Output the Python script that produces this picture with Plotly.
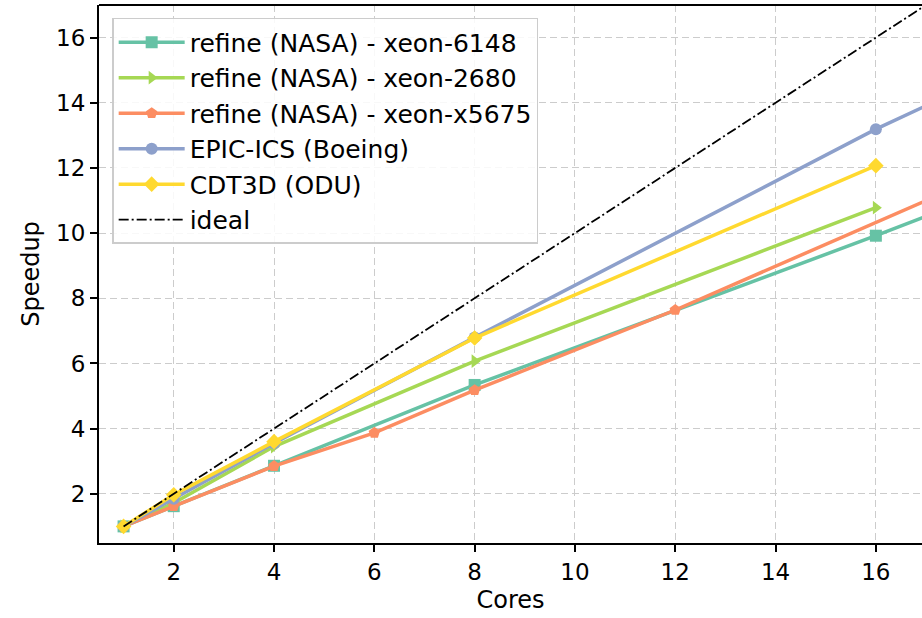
import plotly.graph_objects as go

# Data
cores_6148 = [1, 2, 4, 8, 16, 32]
speedup_6148 = [1.0, 1.62, 2.86, 5.34, 9.92, 19.4]

cores_2680 = [1, 2, 4, 8, 16]
speedup_2680 = [1.0, 1.72, 3.45, 6.07, 10.78]

cores_x5675 = [1, 2, 4, 6, 8, 12, 24]
speedup_x5675 = [1.0, 1.62, 2.85, 3.87, 5.18, 7.64, 15.7]

cores_epic = [1, 2, 4, 8, 16, 32]
speedup_epic = [1.0, 1.85, 3.55, 6.8, 13.19, 24.7]

cores_cdt3d = [1, 2, 4, 8, 16]
speedup_cdt3d = [1.0, 1.97, 3.6, 6.78, 12.07]

cores_ideal = [1, 32]
speedup_ideal = [1, 32]

tick_vals = [2, 4, 6, 8, 10, 12, 14, 16]

series = [
    ("refine (NASA) - xeon-6148", cores_6148, speedup_6148, "#66c2a5", "square"),
    ("refine (NASA) - xeon-2680", cores_2680, speedup_2680, "#a6d854", "triangle-right"),
    ("refine (NASA) - xeon-x5675", cores_x5675, speedup_x5675, "#fc8d62", "pentagon"),
    ("EPIC-ICS (Boeing)", cores_epic, speedup_epic, "#8da0cb", "circle"),
    ("CDT3D (ODU)", cores_cdt3d, speedup_cdt3d, "#ffd92f", "diamond"),
]

fig = go.Figure()
for name, x, y, color, sym in series:
    fig.add_trace(go.Scatter(
        x=x, y=y, name=name, mode="lines+markers",
        line=dict(color=color, width=3.5),
        marker=dict(symbol=sym, size=12, color=color),
    ))

fig.add_trace(go.Scatter(
    x=cores_ideal, y=speedup_ideal, name="ideal", mode="lines",
    line=dict(color="black", width=1.8, dash="10px,3px,2px,3px"),
))

tickfont = dict(family="DejaVu Sans", size=23, color="black")

axis_common = dict(
    showline=True, linecolor="black", linewidth=2,
    ticks="outside", ticklen=7, tickwidth=1.5, tickcolor="black",
    showgrid=True, gridcolor="#cccccc", griddash="7px,4px", gridwidth=1.4,
    zeroline=False,
)

fig.update_layout(
    width=922, height=618,
    margin=dict(l=99, r=0, t=5, b=75),
    paper_bgcolor="white", plot_bgcolor="white",
    font=dict(family="DejaVu Sans", color="black"),
    legend=dict(x=0.016, y=0.976, xanchor="left", yanchor="top",
                bgcolor="rgba(255,255,255,0.85)", bordercolor="#cccccc", borderwidth=1.5,
                font=dict(size=25), itemwidth=66, tracegroupgap=0),
    showlegend=True,
    shapes=[dict(type="line", xref="paper", yref="paper", x0=0, x1=1, y0=1, y1=1,
                 line=dict(color="black", width=2))],
)
fig.update_xaxes(range=[0.51, 16.92], tickvals=tick_vals, tickfont=tickfont,
                 title=dict(text="Cores", font=dict(size=24), standoff=8), **axis_common)
fig.update_yaxes(range=[0.49, 17.0], tickvals=tick_vals, tickfont=tickfont,
                 title=dict(text="Speedup", font=dict(size=24), standoff=10), **axis_common)

fig.write_html("out.html")
